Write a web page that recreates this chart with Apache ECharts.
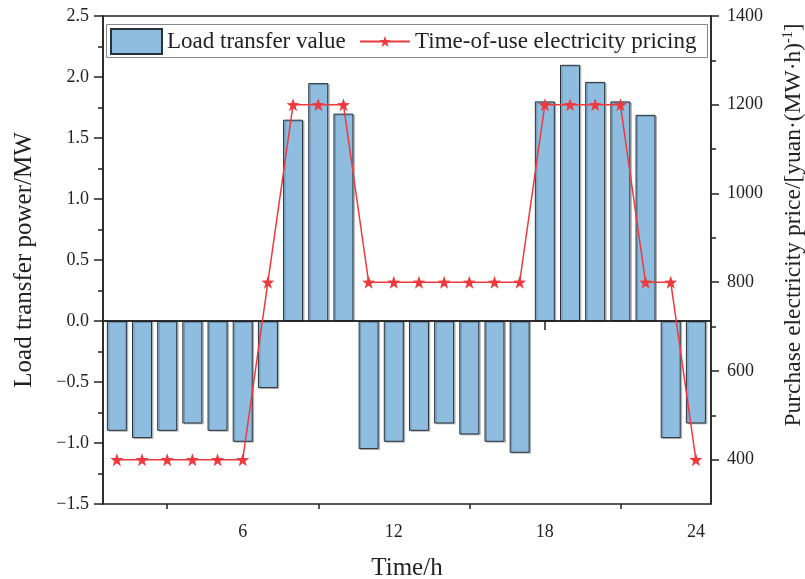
<!DOCTYPE html>
<html>
<head>
<meta charset="utf-8">
<script src="https://cdn.jsdelivr.net/npm/echarts@6/dist/echarts.min.js"></script>
<style>
  html, body { margin: 0; padding: 0; background: #fff; }
  #chart { width: 805px; height: 579px; }
</style>
</head>
<body>
<div id="chart"></div>
<script>
// Hour of day (1..24)
const hours = [1,2,3,4,5,6,7,8,9,10,11,12,13,14,15,16,17,18,19,20,21,22,23,24];
// Load transfer value per hour, MW
const loadTransfer = [-0.90,-0.96,-0.90,-0.84,-0.90,-0.99,-0.55,1.65,1.95,1.70,-1.05,-0.99,
                      -0.90,-0.84,-0.93,-0.99,-1.08,1.80,2.10,1.96,1.80,1.69,-0.96,-0.84];
// Time-of-use purchase price, yuan/(MW·h)
const touPrice = [400,400,400,400,400,400,800,1200,1200,1200,800,800,
                  800,800,800,800,800,1200,1200,1200,1200,800,800,400];
// Tick positions / labels
const xLabelTicks = [6,12,18,24];
const xMinorTicks = [3,9,15,21];
const priceLabelTicks = [400,600,800,1000,1200,1400];
const priceMinorTicks = [500,700,900,1100,1300];

const FONT = 'Liberation Serif';
const INK = '#222';
const RED = '#EE3A3F';
const STAR = 'path://M0,-10 L2.35,-3.24 L9.51,-3.09 L3.8,1.24 L5.88,8.09 L0,4 L-5.88,8.09 L-3.8,1.24 L-9.51,-3.09 L-2.35,-3.24 Z';

const fmtNum = v => v.toFixed(1).replace('-', '\u2212');

const chart = echarts.init(document.getElementById('chart'), null, { renderer: 'canvas' });

const xBase = { type: 'value', min: 0.45, max: 24.6, gridIndex: 0, splitLine: { show: false } };
const yPriceBase = { type: 'value', min: 300, max: 1400, position: 'right', splitLine: { show: false } };
const legendText = { fontFamily: FONT, fontSize: 23, color: INK };

chart.setOption({
  animation: false,
  backgroundColor: '#fff',
  grid: {
    left: 103, right: 94, top: 16, bottom: 75,
    outerBoundsMode: 'none', containLabel: false,
    show: true, borderColor: INK, borderWidth: 1.5, backgroundColor: 'transparent'
  },
  // legend frame
  graphic: [{
    type: 'rect', left: 106, top: 24, z: 10, silent: true,
    shape: { width: 601, height: 33 },
    style: { fill: '#fff', stroke: '#888', lineWidth: 1 }
  }],
  legend: [
    {
      left: 110, top: 28, padding: 0, z: 20,
      itemWidth: 51, itemHeight: 25,
      textStyle: legendText,
      data: [{ name: 'Load transfer value', icon: 'rect' }]
    },
    {
      left: 359, top: 30, padding: 0, z: 20,
      itemWidth: 50, itemHeight: 14,
      textStyle: legendText,
      data: [{ name: 'Time-of-use electricity pricing' }]
    }
  ],
  xAxis: [
    Object.assign({}, xBase, {
      position: 'bottom',
      name: 'Time/h', nameLocation: 'middle', nameGap: 52,
      nameTextStyle: { fontFamily: FONT, fontSize: 25, color: INK },
      axisLine: { show: true, lineStyle: { color: INK, width: 1.5 } },
      axisTick: { show: true, customValues: xLabelTicks, length: 9, lineStyle: { color: INK, width: 1.5 } },
      axisLabel: { customValues: xLabelTicks, margin: 19, fontFamily: FONT, fontSize: 18, color: INK }
    }),
    Object.assign({}, xBase, {
      position: 'bottom',
      axisLine: { show: false },
      axisTick: { show: true, customValues: xMinorTicks, length: 5, lineStyle: { color: INK, width: 1.5 } },
      axisLabel: { show: false }
    })
  ],
  yAxis: [
    {
      type: 'value', min: -1.5, max: 2.5, interval: 0.5, position: 'left',
      name: 'Load transfer power/MW', nameLocation: 'middle', nameGap: 66, nameRotate: 90,
      nameTextStyle: { fontFamily: FONT, fontSize: 25, color: INK },
      axisLine: { show: true, lineStyle: { color: INK, width: 1.5 } },
      axisTick: { show: true, length: 9, lineStyle: { color: INK, width: 1.5 } },
      minorTick: { show: true, splitNumber: 2, length: 5, lineStyle: { color: INK, width: 1.5 } },
      axisLabel: { margin: 14, fontFamily: FONT, fontSize: 18, color: INK, formatter: fmtNum },
      splitLine: { show: false }
    },
    Object.assign({}, yPriceBase, {
      name: '{t|Purchase electricity price/[yuan\u00B7(MW\u00B7h)}{s|-1}{t|]}',
      nameLocation: 'middle', nameGap: 70, nameRotate: 90,
      nameTextStyle: {
        fontFamily: FONT, fontSize: 23.5, color: INK,
        padding: [0, 0, 0, 70],
        rich: {
          t: { fontFamily: FONT, fontSize: 23.5, color: INK, lineHeight: 26 },
          s: { fontFamily: FONT, fontSize: 14, color: INK, verticalAlign: 'top', lineHeight: 26, padding: [0, 0, 9, 0] }
        }
      },
      axisLine: { show: true, lineStyle: { color: INK, width: 1.5 } },
      axisTick: { show: true, customValues: priceLabelTicks, length: 8, lineStyle: { color: INK, width: 1.5 } },
      axisLabel: { customValues: priceLabelTicks, margin: 16, fontFamily: FONT, fontSize: 18, color: INK,
                   formatter: v => String(v) }
    }),
    Object.assign({}, yPriceBase, {
      axisLine: { show: false },
      axisTick: { show: true, customValues: priceMinorTicks, length: 5, lineStyle: { color: INK, width: 1.5 } },
      axisLabel: { show: false }
    })
  ],
  series: [
    {
      name: 'Load transfer value',
      type: 'bar',
      xAxisIndex: 0, yAxisIndex: 0,
      barWidth: 20,
      data: hours.map((h, i) => [h, loadTransfer[i]]),
      itemStyle: {
        color: '#8FBDE0', borderColor: '#27313b', borderWidth: 1,
        shadowColor: 'rgba(0,0,0,0.22)', shadowOffsetX: 1.5, shadowOffsetY: 1, shadowBlur: 0
      },
      markLine: {
        silent: true, symbol: ['none', 'none'], label: { show: false },
        lineStyle: { color: INK, width: 1.5, type: 'solid' },
        data: [{ yAxis: 0 }]
      },
      z: 2
    },
    {
      name: 'Time-of-use electricity pricing',
      type: 'line',
      xAxisIndex: 0, yAxisIndex: 1,
      data: hours.map((h, i) => [h, touPrice[i]]),
      symbol: STAR, symbolSize: 13, showAllSymbol: true,
      lineStyle: { color: RED, width: 1.5 },
      itemStyle: { color: RED },
      z: 5
    }
  ]
});
</script>
</body>
</html>
